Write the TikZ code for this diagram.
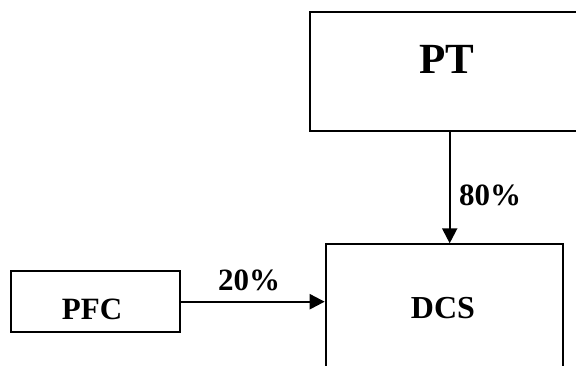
\documentclass[tikz,border=0pt]{standalone}
\usepackage{fontspec}
\setmainfont{Liberation Serif}
\usetikzlibrary{arrows.meta}
\begin{document}
\begin{tikzpicture}[x=1pt,y=1pt,
  boxst/.style={draw, line width=2pt, rectangle, inner sep=0pt},
  lbl/.style={font=\bfseries, anchor=base, inner sep=0pt},
  arr/.style={line width=2.2pt, -{Triangle[length=15pt,width=15pt]}}]
\useasboundingbox (0,0) rectangle (576,365);
\clip (0,0) rectangle (576,365);
% boxes
\node[boxst, minimum width=275.5pt, minimum height=119.3pt] (ptbox) at (447.25,293.35) {};
\node[boxst, minimum width=237.6pt, minimum height=134.7pt] (dcsbox) at (444.5,53.35) {};
\node[boxst, minimum width=169pt, minimum height=61.6pt] (pfcbox) at (95.5,63.5) {};
% texts
\node[lbl, font=\bfseries\fontsize{43}{43}\selectfont] (pt) at (447,291) {PT};
\node[lbl, font=\bfseries\fontsize{32}{32}\selectfont] (dcs) at (443,46.7) {DCS};
\node[lbl, font=\bfseries\fontsize{31}{31}\selectfont] (pfc) at (92,45.7) {PFC};
\node[lbl, font=\bfseries\fontsize{31}{31}\selectfont] (l80) at (490,160) {80\%};
\node[lbl, font=\bfseries\fontsize{31}{31}\selectfont] (l20) at (249,75) {20\%};
% connectors
\coordinate (ax) at (449.7,0);
\coordinate (ay) at (0,63.3);
\draw[arr] (ptbox.south -| ax) -- (dcsbox.north -| ax);
\draw[arr] (pfcbox.east |- ay) -- (dcsbox.west |- ay);
\end{tikzpicture}
\end{document}
